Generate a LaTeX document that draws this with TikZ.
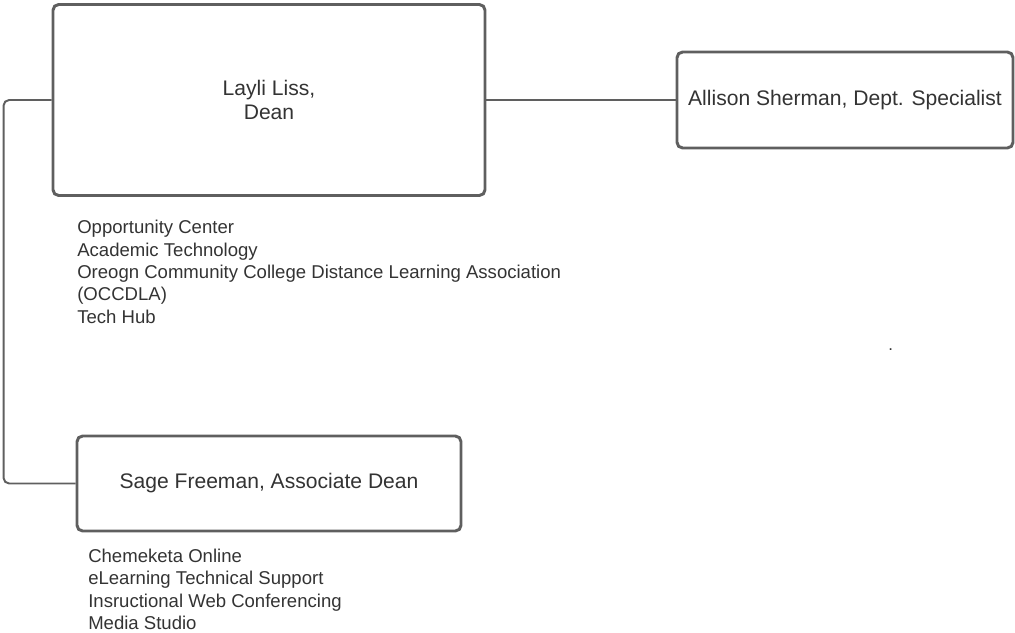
\documentclass[tikz,border=0pt]{standalone}
\usepackage{fontspec}
\setmainfont{Liberation Sans}
\usepackage{xcolor}
\usetikzlibrary{positioning}
\definecolor{linegray}{HTML}{5F5F5F}
\definecolor{textgray}{HTML}{333333}

\begin{document}
\begin{tikzpicture}
  [every node/.style={text=textgray},
   person/.style={draw=linegray,line width=2.1pt,rounded corners=4pt,align=center,font=\fontsize{15}{17}\selectfont},
   units/.style={anchor=north west,inner sep=0pt,align=left,font=\fontsize{13.2}{15.9}\selectfont},
   link/.style={draw=linegray,line width=1.4pt,rounded corners=4pt}]
  \useasboundingbox (0,0) rectangle (25.375,-15.825);
  \node[person,minimum width=10.8cm,minimum height=4.775cm] (dean) at (6.725,-2.5) {Layli Liss,\\Dean};
  \node[person,minimum width=8.4cm,minimum height=2.4cm] (spec) at (21.125,-2.5) {Allison Sherman, Dept. Specialist};
  \node[person,minimum width=9.6cm,minimum height=2.375cm] (assoc) at (6.725,-12.0875) {Sage Freeman, Associate Dean};
  \node[units] (deanunits) at (1.925,-5.5) {Opportunity Center\\Academic Technology\\Oreogn Community College Distance Learning Association\\(OCCDLA)\\Tech Hub};
  \node[units] (assocunits) at (2.2,-13.72) {Chemeketa Online\\eLearning Technical Support\\Insructional Web Conferencing\\Media Studio};
  \node[inner sep=0pt,font=\fontsize{12}{12}\selectfont] (dot) at (22.27,-8.75) {.};
\draw[link] (dean.east) -- (spec.west);
\draw[link] (dean.west) -- ++(-1.2,0) |- (assoc.west);

\end{tikzpicture}
\end{document}
